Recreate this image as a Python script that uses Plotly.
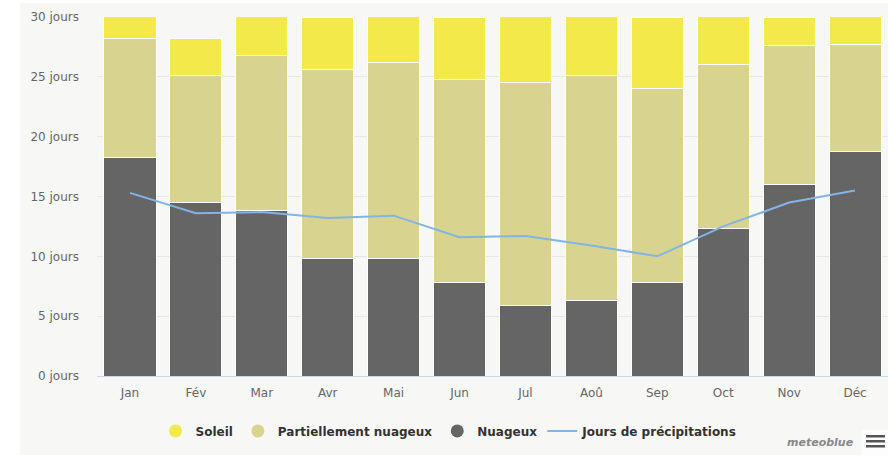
import plotly.graph_objects as go

months = ["Jan", "Fév", "Mar", "Avr", "Mai", "Jun", "Jul", "Aoû", "Sep", "Oct", "Nov", "Déc"]
nuageux = [18.3, 14.5, 13.8, 9.8, 9.8, 7.8, 5.9, 6.3, 7.8, 12.3, 16.0, 18.8]
partiellement = [9.9, 10.6, 13.0, 15.8, 16.4, 17.0, 18.6, 18.8, 16.2, 13.7, 11.6, 8.9]
soleil = [2.8, 3.1, 4.2, 4.4, 4.8, 5.2, 6.5, 5.9, 6.0, 5.0, 2.4, 3.3]
precipitations = [15.3, 13.6, 13.7, 13.2, 13.4, 11.6, 11.7, 10.9, 10.0, 12.5, 14.5, 15.5]
y_ticks = [0, 5, 10, 15, 20, 25, 30]
y_labels = [f"{v} jours" for v in y_ticks]

c_sun = "#f3e94b"
c_part = "#d8d48f"
c_cloud = "#656565"
c_line = "#82b4e6"

fig = go.Figure()
for name, vals, col in [("Nuageux", nuageux, c_cloud),
                        ("Partiellement nuageux", partiellement, c_part),
                        ("Soleil", soleil, c_sun)]:
    fig.add_trace(go.Bar(x=months, y=vals, name=name, marker=dict(color=col, line=dict(color="white", width=1)),
                         showlegend=False))
fig.add_trace(go.Scatter(x=months, y=precipitations, mode="lines", line=dict(color=c_line, width=2),
                         showlegend=False, name="Jours de précipitations"))

# legend entries
for name, col in [("Soleil", c_sun), ("Partiellement nuageux", c_part), ("Nuageux", c_cloud)]:
    fig.add_trace(go.Scatter(x=[None], y=[None], mode="markers", name=name,
                             marker=dict(color=col, size=13, symbol="circle")))
fig.add_trace(go.Scatter(x=[None], y=[None], mode="lines", name="Jours de précipitations",
                         line=dict(color=c_line, width=2)))

# menu icon (three bars), in paper coordinates
menu_bars = [(-0.1643, -0.1713), (-0.1783, -0.1852), (-0.1922, -0.1992)]
shapes = [dict(type="rect", xref="paper", yref="paper", x0=-0.0972, x1=1.0, y0=-0.2201, y1=1.0390,
               fillcolor="#f7f7f6", line=dict(width=0), layer="below"),
          dict(type="rect", xref="paper", yref="paper", x0=0.9665, x1=1.0, y0=-0.150, y1=-0.2201,
               fillcolor="#fdfdfd", line=dict(width=0), layer="below")]
for y0, y1 in menu_bars:
    shapes.append(dict(type="rect", xref="paper", yref="paper", x0=0.9722, x1=0.9962, y0=y0, y1=y1,
                       fillcolor="#555555", line=dict(width=0), layer="above"))

fig.update_layout(
    width=888, height=455,
    barmode="stack", bargap=0.21,
    paper_bgcolor="white", plot_bgcolor="#f7f7f6",
    margin=dict(l=97, r=0, t=17, b=79),
    font=dict(family="DejaVu Sans", size=12, color="#666666"),
    showlegend=True,
    legend=dict(orientation="h", x=0.445, xanchor="center", y=-0.153, yanchor="middle",
                traceorder="normal",
                font=dict(size=12, color="#333333", family="DejaVu Sans", weight="bold"),
                bgcolor="rgba(0,0,0,0)", itemwidth=30, tracegroupgap=0),
    shapes=shapes,
    annotations=[
        dict(text="<i>meteoblue</i>", xref="paper", yref="paper", x=0.9596, y=-0.186, xanchor="right",
             yanchor="middle", showarrow=False,
             font=dict(size=11, color="#888888", family="DejaVu Sans", weight="bold")),
    ],
)
fig.update_xaxes(showgrid=False, showline=True, linecolor="#ccd6eb", linewidth=1, ticks="",
                 tickfont=dict(size=12, color="#666666"), ticklabelstandoff=6)
fig.update_yaxes(range=[0, 30], tickvals=y_ticks, ticktext=y_labels, gridcolor="#e6e6e6", gridwidth=1,
                 zeroline=False, showline=False, ticks="", ticklabelstandoff=17,
                 tickfont=dict(size=12, color="#666666"))

fig.write_html("out.html", config={"displayModeBar": False},
               post_script="document.body.style.margin='0';")
